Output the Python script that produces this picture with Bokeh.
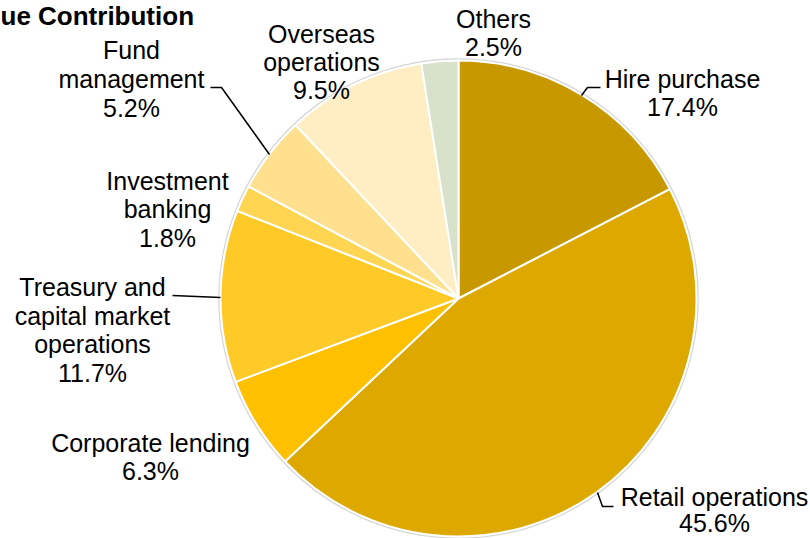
import numpy as np
from bokeh.plotting import figure
from bokeh.models import Range1d, ColumnDataSource
from bokeh.embed import file_html
from bokeh.resources import INLINE
from bokeh.core.properties import value

# ---- data ----
title_text = "ue Contribution"
segments = ["Hire purchase", "Retail operations", "Corporate lending",
            "Treasury and capital market operations", "Investment banking",
            "Fund management", "Overseas operations", "Others"]
shares = [17.4, 45.6, 6.3, 11.7, 1.8, 5.2, 9.5, 2.5]
label_lines = [["Hire purchase"], ["Retail operations"], ["Corporate lending"],
               ["Treasury and", "capital market", "operations"],
               ["Investment", "banking"], ["Fund", "management"],
               ["Overseas", "operations"], ["Others"]]
colors = ["#C89800", "#DDA800", "#FFC000", "#FFCA28",
          "#FFD551", "#FFE08F", "#FFEEC4", "#D8E2CB"]

# ---- layout (reference pixel coordinates) ----
CX, CY, R = 458, 298, 238
W, H = 810, 538
FS = 25
ASC = 0.905 * FS             # baseline offset below the text top
# label block: centre x, first baseline, line spacing
label_pos = [(682, 87, 28), (714, 505, 26), (150, 451, 28),
             (92, 295, 28.7), (167, 189, 28.5), (131, 58, 29),
             (321, 42, 28), (493, 27, 28)]
leaders = [[(581, 95), (587, 87), (600, 87)],
           [(597, 492), (602, 506), (613, 506)],
           None,
           [(172, 295), (220, 297)],
           None,
           [(210, 87), (221, 87), (269, 154)],
           None, None]

def tx(X):
    return X - CX

def ty(Y):
    return CY - Y

p = figure(width=W, height=H, output_backend="svg", toolbar_location=None,
           x_range=Range1d(tx(0), tx(W)), y_range=Range1d(ty(H), ty(0)),
           x_axis_type=None, y_axis_type=None, min_border=0,
           outline_line_color=None, background_fill_color="white")
p.grid.visible = False

vals = np.array(shares)
cum = np.cumsum(vals) / vals.sum()
prev = np.concatenate([[0], cum[:-1]])
start = np.pi / 2 - 2 * np.pi * cum
end = np.pi / 2 - 2 * np.pi * prev

# faint shadow ring
p.circle(x=[0], y=[0], radius=R + 1.5, fill_color=None,
         line_color="#d6d6d6", line_width=1.5)

src = ColumnDataSource(dict(start=start, end=end, color=colors, name=segments))
p.wedge(x=0, y=0, radius=R, start_angle="start", end_angle="end",
        fill_color="color", line_color="white", line_width=2, source=src)

# leader lines
xs, ys = [], []
for L in leaders:
    if L:
        xs.append([tx(a) for a, b in L])
        ys.append([ty(b) for a, b in L])
p.multi_line(xs=xs, ys=ys, line_color="black", line_width=1.5)

# labels
lx, ly, lt = [], [], []
for lines, v, (cx, by, sp) in zip(label_lines, shares, label_pos):
    allines = lines + [f"{v:.1f}%"]
    for k, t in enumerate(allines):
        lx.append(tx(cx))
        ly.append(ty(by + k * sp - ASC))
        lt.append(t)
p.text(x=lx, y=ly, text=lt, text_align="center", text_baseline="top",
       text_font=value("Liberation Sans"), text_font_size=f"{FS}px",
       text_color="black")

# title, kept at the top-left edge
p.text(x=[tx(0)], y=[ty(0)], text=[title_text], text_align="left",
       text_baseline="top", text_font=value("Liberation Sans"),
       text_font_size="26px", text_font_style="bold", text_color="black")

open("out.html", "w").write(file_html(p, INLINE))
